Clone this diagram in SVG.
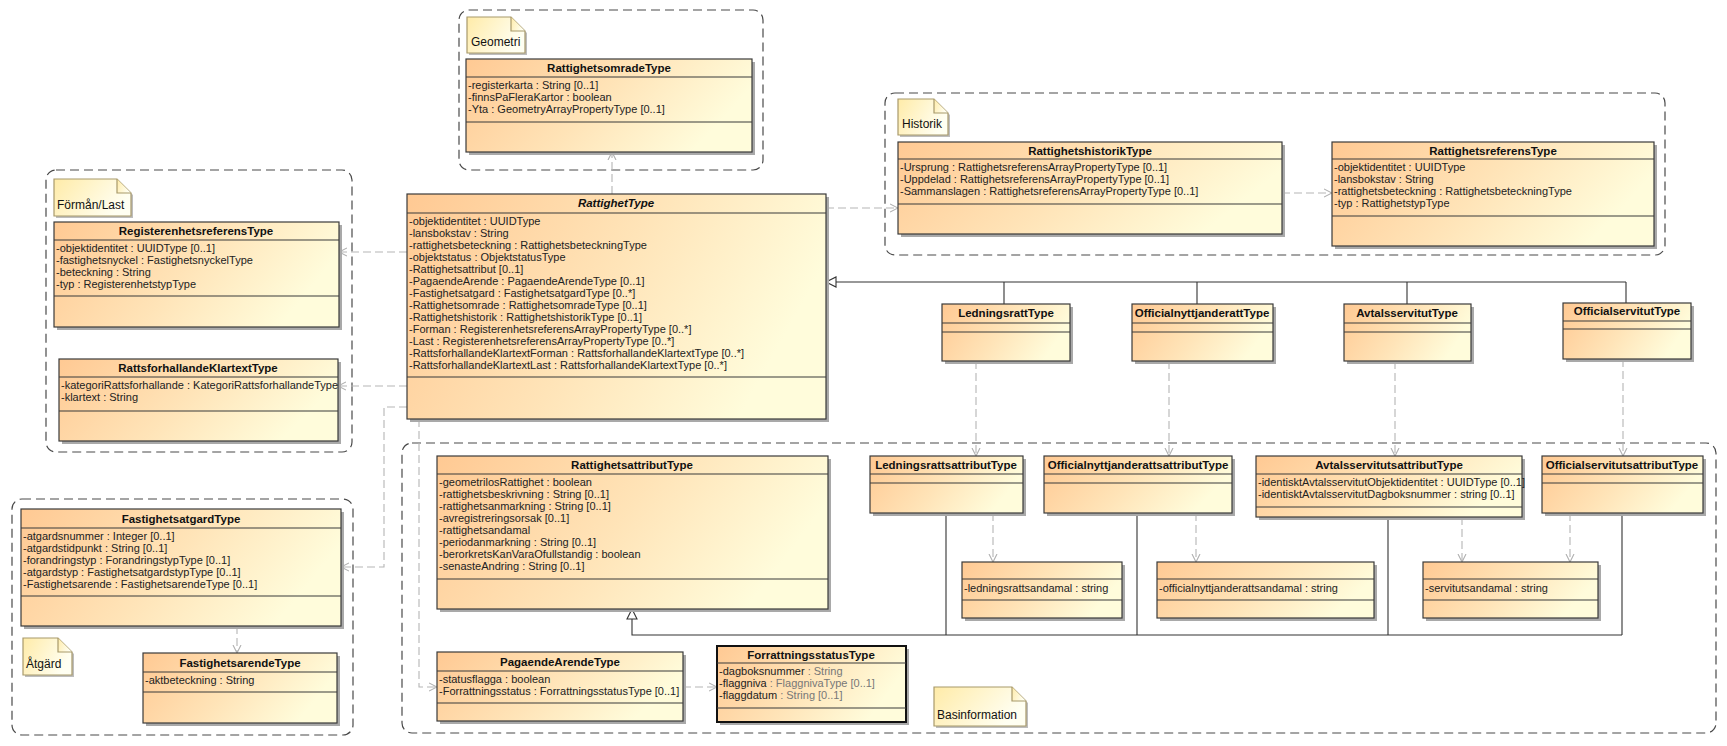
<svg xmlns="http://www.w3.org/2000/svg" width="1727" height="746" viewBox="0 0 1727 746">
<style>
.box{fill:url(#cg);stroke:#3a3a3a;stroke-width:1.2}
.fbox{fill:url(#cg);stroke:#111;stroke-width:2}
.shd{fill:#a9a9a9}
.sep{stroke:#3a3a3a;stroke-width:1.2}
.t{font-family:"Liberation Sans",Arial,sans-serif;font-size:11.5px;font-weight:bold;fill:#111;text-anchor:middle}
.ti{font-style:italic}
.a{font-family:"Liberation Sans",Arial,sans-serif;font-size:11px;fill:#222}
.g{fill:#777}
.pkg{fill:none;stroke:#4a4a4a;stroke-width:1.2;stroke-dasharray:9,5}
.note{fill:url(#ng);stroke:#a8996b;stroke-width:1.2}
.nshd{fill:#bdbdbd}
.nt{font-family:"Liberation Sans",Arial,sans-serif;font-size:12px;fill:#111}
.dep{fill:none;stroke:#b5b5b5;stroke-width:1.1;stroke-dasharray:8,4;marker-end:url(#oa)}
.gen{fill:none;stroke:#333;stroke-width:1.1}
.tri{fill:#fff;stroke:#333;stroke-width:1.1}
</style>
<defs>
<linearGradient id="cg" x1="0" y1="0" x2="1" y2="0.3">
<stop offset="0" stop-color="#ffc993"/>
<stop offset="0.55" stop-color="#ffe4b8"/>
<stop offset="1" stop-color="#fffcdb"/>
</linearGradient>
<linearGradient id="ng" x1="0" y1="0" x2="1" y2="0.4">
<stop offset="0" stop-color="#ffeba8"/>
<stop offset="1" stop-color="#fffff2"/>
</linearGradient>
<marker id="oa" viewBox="0 0 8 10" refX="8" refY="5" markerWidth="8" markerHeight="10" markerUnits="userSpaceOnUse" orient="auto">
<path d="M0,1 L8,5 L0,9" fill="none" stroke="#b0b0b0" stroke-width="1.1" stroke-dasharray="none"/>
</marker>
</defs>
<rect x="0" y="0" width="1727" height="746" fill="#ffffff"/>

<g id="packages">
<rect class="pkg" x="459" y="10" width="304" height="160" rx="10"/>
<rect class="pkg" x="885" y="93" width="780" height="162" rx="10"/>
<rect class="pkg" x="46" y="170" width="306" height="282" rx="10"/>
<rect class="pkg" x="12" y="499" width="341" height="236" rx="10"/>
<rect class="pkg" x="402" y="443" width="1314" height="290" rx="10"/>
</g>

<g id="notes">
<g id="note-geometri">
<path class="nshd" d="M469,19 H513 L527,33 V55 H469 Z"/>
<path class="note" d="M467,17 H511 L525,31 V53 H467 Z"/>
<path class="note" d="M511,17 V31 H525" fill="none"/>
<text class="nt" x="471" y="46">Geometri</text>
</g>
<g id="note-historik">
<path class="nshd" d="M900,101 H936 L950,115 V137 H900 Z"/>
<path class="note" d="M898,99 H934 L948,113 V135 H898 Z"/>
<path class="note" d="M934,99 V113 H948" fill="none"/>
<text class="nt" x="902" y="128">Historik</text>
</g>
<g id="note-forman">
<path class="nshd" d="M56,181 H119 L133,195 V218 H56 Z"/>
<path class="note" d="M54,179 H117 L131,193 V216 H54 Z"/>
<path class="note" d="M117,179 V193 H131" fill="none"/>
<text class="nt" x="57" y="209">Förmån/Last</text>
</g>
<g id="note-atgard">
<path class="nshd" d="M25,640 H60 L74,654 V677 H25 Z"/>
<path class="note" d="M23,638 H58 L72,652 V675 H23 Z"/>
<path class="note" d="M58,638 V652 H72" fill="none"/>
<text class="nt" x="26" y="668">Åtgärd</text>
</g>
<g id="note-basinformation">
<path class="nshd" d="M936,689 H1014 L1028,703 V728 H936 Z"/>
<path class="note" d="M934,687 H1012 L1026,701 V726 H934 Z"/>
<path class="note" d="M1012,687 V701 H1026" fill="none"/>
<text class="nt" x="937" y="719">Basinformation</text>
</g>
</g>

<g id="connectors">
<path class="dep" d="M612,194 V152"/>
<path class="dep" d="M407,252 H339"/>
<path class="dep" d="M407,386 H338"/>
<path class="dep" d="M826,208 H898"/>
<path class="dep" d="M1282,193 H1332"/>
<path class="dep" d="M407,407 H384 V567 H341"/>
<path class="dep" d="M419,419 V687 H437"/>
<path class="dep" d="M237,626 V653"/>
<path class="dep" d="M683,687 H717"/>
<path class="dep" d="M976,361 V456"/>
<path class="dep" d="M1169,361 V456"/>
<path class="dep" d="M1395,361 V456"/>
<path class="dep" d="M1623,359 V456"/>
<path class="dep" d="M993,513 V562"/>
<path class="dep" d="M1196,513 V562"/>
<path class="dep" d="M1462,517 V562"/>
<path class="dep" d="M1570,513 V562"/>
<path class="gen" d="M836,282 H1626 M1004,282 V304 M1197,282 V304 M1407,282 V304 M1626,282 V303"/>
<polygon class="tri" points="826,282 836,277 836,287"/>
<path class="gen" d="M632,619 V635 H1622 M946,513 V635 M1137,513 V635 M1388,517 V635 M1622,513 V635"/>
<polygon class="tri" points="632,609 627,619 637,619"/>
</g>

<g id="RattighetsomradeType">
<rect class="shd" x="469" y="62" width="286" height="93"/>
<rect class="box" x="466" y="59" width="286" height="93"/>
<line class="sep" x1="466" y1="77" x2="752" y2="77"/>
<line class="sep" x1="466" y1="122" x2="752" y2="122"/>
<text class="t" x="609" y="72">RattighetsomradeType</text>
<text class="a" x="468" y="89">-registerkarta : String [0..1]</text>
<text class="a" x="468" y="101">-finnsPaFleraKartor : boolean</text>
<text class="a" x="468" y="113">-Yta : GeometryArrayPropertyType [0..1]</text>
</g>

<g id="RattighetType">
<rect class="shd" x="410" y="197" width="419" height="225"/>
<rect class="box" x="407" y="194" width="419" height="225"/>
<line class="sep" x1="407" y1="213" x2="826" y2="213"/>
<line class="sep" x1="407" y1="377" x2="826" y2="377"/>
<text class="t ti" x="616" y="207">RattighetType</text>
<text class="a" x="409" y="225">-objektidentitet : UUIDType</text>
<text class="a" x="409" y="237">-lansbokstav : String</text>
<text class="a" x="409" y="249">-rattighetsbeteckning : RattighetsbeteckningType</text>
<text class="a" x="409" y="261">-objektstatus : ObjektstatusType</text>
<text class="a" x="409" y="273">-Rattighetsattribut [0..1]</text>
<text class="a" x="409" y="285">-PagaendeArende : PagaendeArendeType [0..1]</text>
<text class="a" x="409" y="297">-Fastighetsatgard : FastighetsatgardType [0..*]</text>
<text class="a" x="409" y="309">-Rattighetsomrade : RattighetsomradeType [0..1]</text>
<text class="a" x="409" y="321">-Rattighetshistorik : RattighetshistorikType [0..1]</text>
<text class="a" x="409" y="333">-Forman : RegisterenhetsreferensArrayPropertyType [0..*]</text>
<text class="a" x="409" y="345">-Last : RegisterenhetsreferensArrayPropertyType [0..*]</text>
<text class="a" x="409" y="357">-RattsforhallandeKlartextForman : RattsforhallandeKlartextType [0..*]</text>
<text class="a" x="409" y="369">-RattsforhallandeKlartextLast : RattsforhallandeKlartextType [0..*]</text>
</g>

<g id="RattighetshistorikType">
<rect class="shd" x="901" y="145" width="384" height="92"/>
<rect class="box" x="898" y="142" width="384" height="92"/>
<line class="sep" x1="898" y1="159" x2="1282" y2="159"/>
<line class="sep" x1="898" y1="204" x2="1282" y2="204"/>
<text class="t" x="1090" y="155">RattighetshistorikType</text>
<text class="a" x="900" y="171">-Ursprung : RattighetsreferensArrayPropertyType [0..1]</text>
<text class="a" x="900" y="183">-Uppdelad : RattighetsreferensArrayPropertyType [0..1]</text>
<text class="a" x="900" y="195">-Sammanslagen : RattighetsreferensArrayPropertyType [0..1]</text>
</g>

<g id="RattighetsreferensType">
<rect class="shd" x="1335" y="145" width="322" height="104"/>
<rect class="box" x="1332" y="142" width="322" height="104"/>
<line class="sep" x1="1332" y1="159" x2="1654" y2="159"/>
<line class="sep" x1="1332" y1="216" x2="1654" y2="216"/>
<text class="t" x="1493" y="155">RattighetsreferensType</text>
<text class="a" x="1334" y="171">-objektidentitet : UUIDType</text>
<text class="a" x="1334" y="183">-lansbokstav : String</text>
<text class="a" x="1334" y="195">-rattighetsbeteckning : RattighetsbeteckningType</text>
<text class="a" x="1334" y="207">-typ : RattighetstypType</text>
</g>

<g id="RegisterenhetsreferensType">
<rect class="shd" x="57" y="225" width="285" height="105"/>
<rect class="box" x="54" y="222" width="285" height="105"/>
<line class="sep" x1="54" y1="240" x2="339" y2="240"/>
<line class="sep" x1="54" y1="296" x2="339" y2="296"/>
<text class="t" x="196" y="235">RegisterenhetsreferensType</text>
<text class="a" x="56" y="252">-objektidentitet : UUIDType [0..1]</text>
<text class="a" x="56" y="264">-fastighetsnyckel : FastighetsnyckelType</text>
<text class="a" x="56" y="276">-beteckning : String</text>
<text class="a" x="56" y="288">-typ : RegisterenhetstypType</text>
</g>

<g id="RattsforhallandeKlartextType">
<rect class="shd" x="62" y="362" width="279" height="82"/>
<rect class="box" x="59" y="359" width="279" height="82"/>
<line class="sep" x1="59" y1="377" x2="338" y2="377"/>
<line class="sep" x1="59" y1="411" x2="338" y2="411"/>
<text class="t" x="198" y="372">RattsforhallandeKlartextType</text>
<text class="a" x="61" y="389">-kategoriRattsforhallande : KategoriRattsforhallandeType</text>
<text class="a" x="61" y="401">-klartext : String</text>
</g>

<g id="FastighetsatgardType">
<rect class="shd" x="24" y="512" width="320" height="117"/>
<rect class="box" x="21" y="509" width="320" height="117"/>
<line class="sep" x1="21" y1="528" x2="341" y2="528"/>
<line class="sep" x1="21" y1="596" x2="341" y2="596"/>
<text class="t" x="181" y="523">FastighetsatgardType</text>
<text class="a" x="23" y="540">-atgardsnummer : Integer [0..1]</text>
<text class="a" x="23" y="552">-atgardstidpunkt : String [0..1]</text>
<text class="a" x="23" y="564">-forandringstyp : ForandringstypType [0..1]</text>
<text class="a" x="23" y="576">-atgardstyp : FastighetsatgardstypType [0..1]</text>
<text class="a" x="23" y="588">-Fastighetsarende : FastighetsarendeType [0..1]</text>
</g>

<g id="FastighetsarendeType">
<rect class="shd" x="146" y="656" width="194" height="70"/>
<rect class="box" x="143" y="653" width="194" height="70"/>
<line class="sep" x1="143" y1="672" x2="337" y2="672"/>
<line class="sep" x1="143" y1="692" x2="337" y2="692"/>
<text class="t" x="240" y="667">FastighetsarendeType</text>
<text class="a" x="145" y="684">-aktbeteckning : String</text>
</g>

<g id="LedningsrattType">
<rect class="shd" x="945" y="307" width="128" height="57"/>
<rect class="box" x="942" y="304" width="128" height="57"/>
<line class="sep" x1="942" y1="323" x2="1070" y2="323"/>
<line class="sep" x1="942" y1="332" x2="1070" y2="332"/>
<text class="t" x="1006" y="317">LedningsrattType</text>
</g>

<g id="OfficialnyttjanderattType">
<rect class="shd" x="1135" y="307" width="141" height="57"/>
<rect class="box" x="1132" y="304" width="141" height="57"/>
<line class="sep" x1="1132" y1="323" x2="1273" y2="323"/>
<line class="sep" x1="1132" y1="332" x2="1273" y2="332"/>
<text class="t" x="1202" y="317">OfficialnyttjanderattType</text>
</g>

<g id="AvtalsservitutType">
<rect class="shd" x="1347" y="307" width="127" height="57"/>
<rect class="box" x="1344" y="304" width="127" height="57"/>
<line class="sep" x1="1344" y1="323" x2="1471" y2="323"/>
<line class="sep" x1="1344" y1="332" x2="1471" y2="332"/>
<text class="t" x="1407" y="317">AvtalsservitutType</text>
</g>

<g id="OfficialservitutType">
<rect class="shd" x="1566" y="306" width="128" height="56"/>
<rect class="box" x="1563" y="303" width="128" height="56"/>
<line class="sep" x1="1563" y1="321" x2="1691" y2="321"/>
<line class="sep" x1="1563" y1="329" x2="1691" y2="329"/>
<text class="t" x="1627" y="315">OfficialservitutType</text>
</g>

<g id="RattighetsattributType">
<rect class="shd" x="440" y="459" width="391" height="153"/>
<rect class="box" x="437" y="456" width="391" height="153"/>
<line class="sep" x1="437" y1="474" x2="828" y2="474"/>
<line class="sep" x1="437" y1="579" x2="828" y2="579"/>
<text class="t" x="632" y="469">RattighetsattributType</text>
<text class="a" x="439" y="486">-geometrilosRattighet : boolean</text>
<text class="a" x="439" y="498">-rattighetsbeskrivning : String [0..1]</text>
<text class="a" x="439" y="510">-rattighetsanmarkning : String [0..1]</text>
<text class="a" x="439" y="522">-avregistreringsorsak [0..1]</text>
<text class="a" x="439" y="534">-rattighetsandamal</text>
<text class="a" x="439" y="546">-periodanmarkning : String [0..1]</text>
<text class="a" x="439" y="558">-berorkretsKanVaraOfullstandig : boolean</text>
<text class="a" x="439" y="570">-senasteAndring : String [0..1]</text>
</g>

<g id="LedningsrattsattributType">
<rect class="shd" x="873" y="459" width="153" height="57"/>
<rect class="box" x="870" y="456" width="153" height="57"/>
<line class="sep" x1="870" y1="474" x2="1023" y2="474"/>
<line class="sep" x1="870" y1="483" x2="1023" y2="483"/>
<text class="t" x="946" y="469">LedningsrattsattributType</text>
</g>

<g id="OfficialnyttjanderattsattributType">
<rect class="shd" x="1047" y="459" width="188" height="57"/>
<rect class="box" x="1044" y="456" width="188" height="57"/>
<line class="sep" x1="1044" y1="474" x2="1232" y2="474"/>
<line class="sep" x1="1044" y1="483" x2="1232" y2="483"/>
<text class="t" x="1138" y="469">OfficialnyttjanderattsattributType</text>
</g>

<g id="AvtalsservitutsattributType">
<rect class="shd" x="1259" y="459" width="266" height="61"/>
<rect class="box" x="1256" y="456" width="266" height="61"/>
<line class="sep" x1="1256" y1="474" x2="1522" y2="474"/>
<line class="sep" x1="1256" y1="507" x2="1522" y2="507"/>
<text class="t" x="1389" y="469">AvtalsservitutsattributType</text>
<text class="a" x="1258" y="486">-identisktAvtalsservitutObjektidentitet : UUIDType [0..1]</text>
<text class="a" x="1258" y="498">-identisktAvtalsservitutDagboksnummer : string [0..1]</text>
</g>

<g id="OfficialservitutsattributType">
<rect class="shd" x="1545" y="459" width="161" height="57"/>
<rect class="box" x="1542" y="456" width="161" height="57"/>
<line class="sep" x1="1542" y1="474" x2="1703" y2="474"/>
<line class="sep" x1="1542" y1="483" x2="1703" y2="483"/>
<text class="t" x="1622" y="469">OfficialservitutsattributType</text>
</g>

<g id="LedningsrattsAndamal">
<rect class="shd" x="965" y="565" width="160" height="56"/>
<rect class="box" x="962" y="562" width="160" height="56"/>
<line class="sep" x1="962" y1="579" x2="1122" y2="579"/>
<line class="sep" x1="962" y1="600" x2="1122" y2="600"/>
<text class="a" x="964" y="592">-ledningsrattsandamal : string</text>
</g>

<g id="OfficialnyttjanderattsAndamal">
<rect class="shd" x="1160" y="565" width="217" height="56"/>
<rect class="box" x="1157" y="562" width="217" height="56"/>
<line class="sep" x1="1157" y1="579" x2="1374" y2="579"/>
<line class="sep" x1="1157" y1="600" x2="1374" y2="600"/>
<text class="a" x="1159" y="592">-officialnyttjanderattsandamal : string</text>
</g>

<g id="ServitutsAndamal">
<rect class="shd" x="1426" y="565" width="175" height="56"/>
<rect class="box" x="1423" y="562" width="175" height="56"/>
<line class="sep" x1="1423" y1="579" x2="1598" y2="579"/>
<line class="sep" x1="1423" y1="600" x2="1598" y2="600"/>
<text class="a" x="1425" y="592">-servitutsandamal : string</text>
</g>

<g id="PagaendeArendeType">
<rect class="shd" x="440" y="655" width="246" height="69"/>
<rect class="box" x="437" y="652" width="246" height="69"/>
<line class="sep" x1="437" y1="671" x2="683" y2="671"/>
<line class="sep" x1="437" y1="703" x2="683" y2="703"/>
<text class="t" x="560" y="666">PagaendeArendeType</text>
<text class="a" x="439" y="683">-statusflagga : boolean</text>
<text class="a" x="439" y="695">-Forrattningsstatus : ForrattningsstatusType [0..1]</text>
</g>

<g id="ForrattningsstatusType">
<rect class="shd" x="720" y="649" width="189" height="76"/>
<rect class="fbox" x="717" y="646" width="189" height="76"/>
<line class="sep" x1="717" y1="663" x2="906" y2="663"/>
<line class="sep" x1="717" y1="708" x2="906" y2="708"/>
<text class="t" x="811" y="659">ForrattningsstatusType</text>
<text class="a" x="719" y="675">-dagboksnummer<tspan class="g"> : String</tspan></text>
<text class="a" x="719" y="687">-flaggniva<tspan class="g"> : FlaggnivaType [0..1]</tspan></text>
<text class="a" x="719" y="699">-flaggdatum<tspan class="g"> : String [0..1]</tspan></text>
</g>
</svg>
